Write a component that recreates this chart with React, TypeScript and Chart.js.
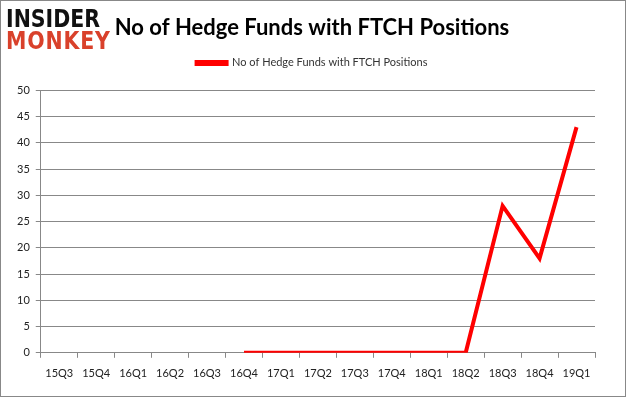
import React, { useEffect, useRef } from "react";
import { Chart, registerables } from "chart.js";
Chart.register(...registerables);

const categories = ["15Q3","15Q4","16Q1","16Q2","16Q3","16Q4","17Q1","17Q2","17Q3","17Q4","18Q1","18Q2","18Q3","18Q4","19Q1"];
const fundCounts: (number | null)[] = [null, null, null, null, null, 0, 0, 0, 0, 0, 0, 0, 28, 18, 43];
const seriesLabel = "No of Hedge Funds with FTCH Positions";
const titleText = "No of Hedge Funds with FTCH Positions";

const legendGap = {
  id: "legendGap",
  beforeInit(chart: any) {
    const orig = chart.legend.fit;
    chart.legend.fit = function () {
      orig.bind(chart.legend)();
      this.height += 12;
    };
  },
  afterLayout(chart: any) {
    const shift = 9;
    for (const box of [chart.legend, chart.titleBlock]) {
      if (box) {
        box.left += shift;
        box.right += shift;
      }
    }
  },
};

export default function App() {
  const ref = useRef<HTMLCanvasElement>(null);
  useEffect(() => {
    document.body.style.margin = "0";
    const chart = new Chart(ref.current!, {
      type: "line",
      data: {
        labels: categories,
        datasets: [{
          label: seriesLabel,
          data: fundCounts,
          borderColor: "#ff0000",
          backgroundColor: "#ff0000",
          borderWidth: 4,
          pointRadius: 0,
          tension: 0,
          spanGaps: false,
        }],
      },
      options: {
        animation: false,
        responsive: false,
        maintainAspectRatio: false,
        layout: { padding: { left: 10, right: 30, top: 14, bottom: 7 } },
        plugins: {
          title: {
            display: true,
            text: titleText,
            color: "#000",
            font: { family: "Lato", size: 22, weight: "bold" },
            padding: { top: 0, bottom: 6 },
          },
          legend: {
            display: true,
            labels: {
              color: "#333",
              font: { family: "Lato", size: 11 },
              boxWidth: 30,
              boxHeight: 2,
              padding: 10,
            },
          },
          tooltip: { enabled: false },
        },
        scales: {
          x: {
            offset: true,
            border: { color: "#888", width: 1 },
            grid: { display: true, drawOnChartArea: false, drawTicks: true, tickLength: 5, offset: true, color: "#888" },
            ticks: { color: "#222", font: { family: "Lato", size: 11 }, padding: 9, maxRotation: 0, autoSkip: false },
          },
          y: {
            min: 0,
            max: 50,
            border: { color: "#888", width: 1 },
            grid: { color: "#888", tickLength: 5 },
            ticks: { stepSize: 5, color: "#222", font: { family: "Lato", size: 11 }, padding: 6 },
          },
        },
      },
      plugins: [legendGap],
    });
    return () => chart.destroy();
  }, []);
  return (
    <div style={{ position: "absolute", left: 0, top: 0, width: 626, height: 397, boxSizing: "border-box", border: "1px solid #888", background: "#fff", overflow: "hidden" }}>
      <canvas ref={ref} width={624} height={395} style={{ position: "absolute", left: 0, top: 0 }} />
      <div style={{ position: "absolute", left: 5, top: 7, fontFamily: "DejaVu Sans", fontWeight: "bold", lineHeight: "22px", transformOrigin: "0 0", transform: "scaleX(0.82)" }}>
        <div style={{ fontSize: 25, color: "#111", letterSpacing: 0 }}>INSIDER</div>
        <div style={{ fontSize: 25, color: "#d9412b", letterSpacing: 1 }}>MONKEY</div>
      </div>
    </div>
  );
}
